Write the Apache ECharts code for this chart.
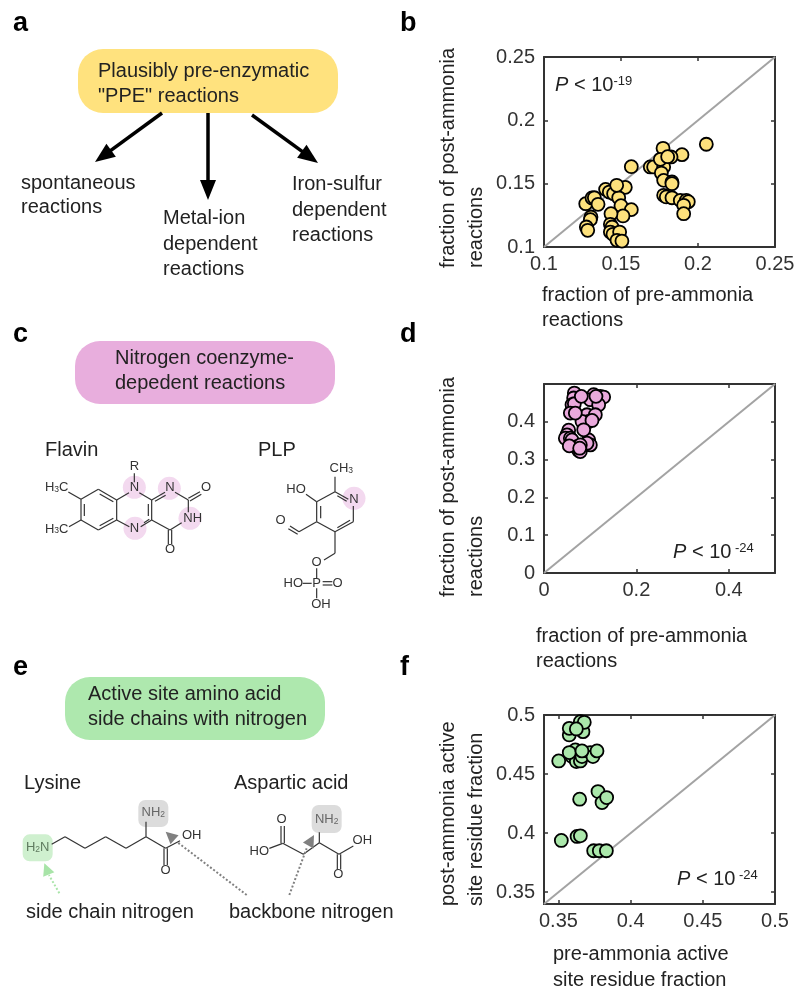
<!DOCTYPE html>
<html>
<head>
<meta charset="utf-8">
<title>PPE reactions</title>
<script src="https://cdn.jsdelivr.net/npm/echarts@6/dist/echarts.min.js"></script>
<style>
	html,body{margin:0;padding:0;background:#fff;}
	#main{width:800px;height:1001px;}
</style>
</head>
<body>
<div id="main"></div>
<script>
	// panel b
	var bPre=[0.1271,0.1312,0.1327,0.1351,0.1305,0.1301,0.1275,0.1284,0.1400,0.1424,0.1452,0.1528,0.1485,0.1500,0.1567,0.1513,0.1435,0.1431,0.1442,0.1431,0.1448,0.1491,0.1474,0.1506,0.1472,0.1567,0.1690,0.1712,0.1777,0.1762,0.1777,0.1831,0.1831,0.1777,0.1794,0.1831,0.1885,0.1924,0.1937,0.1907,0.1907,0.1773,0.1896,0.1825,0.1755,0.1803,0.2054];
	var bPost=[0.1342,0.1387,0.1389,0.1337,0.1237,0.1216,0.1158,0.1132,0.1455,0.1434,0.1421,0.1471,0.1389,0.1326,0.1295,0.1245,0.1263,0.1179,0.1158,0.1118,0.1100,0.1118,0.1053,0.1047,0.1487,0.1634,0.1632,0.1632,0.1632,0.1584,0.1526,0.1513,0.1500,0.1408,0.1395,0.1389,0.1368,0.1368,0.1358,0.1329,0.1263,0.1779,0.1729,0.1711,0.1692,0.1713,0.1811];
	var bTicks=[0.1,0.15,0.2,0.25];
	var bLimits=[0.1,0.25];

	// panel d
	var dPre=[0.0657,0.1075,0.1219,0.1291,0.0642,0.1003,0.1183,0.0606,0.0657,0.0570,0.0931,0.1111,0.0967,0.0823,0.0534,0.0498,0.0462,0.0570,0.0606,0.0967,0.1003,0.0931,0.0714,0.0786,0.0750,0.0786,0.0808,0.1125,0.0678,0.1039,0.0859,0.0548,0.0772];
	var dPost=[0.4761,0.4717,0.4673,0.4655,0.4629,0.4585,0.4452,0.4452,0.4478,0.4230,0.4186,0.4186,0.4009,0.4009,0.3779,0.3655,0.3567,0.3567,0.3522,0.3522,0.3389,0.3434,0.3345,0.3389,0.3239,0.3212,0.4673,0.4673,0.4230,0.4036,0.3788,0.3363,0.3301];
	var dXTicks=[0,0.2,0.4];
	var dYTicks=[0,0.1,0.2,0.3,0.4];
	var dLimits=[0,0.5];

	// panel f
	var fPre=[0.3502,0.3575,0.3670,0.3594,0.3624,0.3652,0.3617,0.3663,0.3721,0.3739,0.3767,0.3647,0.3774,0.3802,0.3834,0.3629,0.3652,0.3520,0.3744,0.3783,0.3832,0.3652,0.3575,0.3679,0.3624,0.3575,0.3663];
	var fPost=[0.4611,0.4831,0.4859,0.4648,0.4606,0.4611,0.4704,0.4648,0.4682,0.4648,0.4696,0.4287,0.4352,0.4259,0.4301,0.3972,0.3977,0.3938,0.3851,0.3851,0.3851,0.4944,0.4887,0.4938,0.4882,0.4682,0.4696];
	var fTicks=[0.35,0.4,0.45,0.5];
	var fLimits=[0.34,0.5];

	var FONT='"Liberation Sans",Arial,sans-serif';
	var INK='#333';

	function zip(a,b){
		return a.map(function(v,i){return [v,b[i]];});
	}

	var grids=[],xAxes=[],yAxes=[],series=[];
	function addPlot(top,bottom,limits,xTicks,yTicks,pre,post,color,name){
		var g=grids.length;
		grids.push({left:544,width:231,top:top,height:bottom-top});
		[xAxes,yAxes].forEach(function(list,k){
			var ticks=k==0?xTicks:yTicks;
			[true,false].forEach(function(main){
				var base={
					type:'value',gridIndex:g,min:limits[0],max:limits[1],
					position:k==0?(main?'bottom':'top'):(main?'left':'right'),
					splitLine:{show:false},
					axisLine:{show:true,onZero:false,lineStyle:{color:INK,width:2}},
					axisTick:{show:true,inside:true,length:4,customValues:ticks,lineStyle:{color:INK,width:1.5}},
					axisLabel:{show:main,customValues:ticks,color:INK,fontSize:20,fontFamily:FONT,margin:k==0?7:9,
						formatter:function(v){return String(v);}}
				};
				list.push(base);
			});
		});
		var axisX=xAxes.length-2,axisY=yAxes.length-2;
		series.push({type:'line',name:'y = x',xAxisIndex:axisX,yAxisIndex:axisY,symbol:'none',silent:true,z:1,
			data:[[limits[0],limits[0]],[limits[1],limits[1]]],lineStyle:{color:'#a3a3a3',width:2}});
		series.push({type:'scatter',name:name,xAxisIndex:axisX,yAxisIndex:axisY,z:3,clip:false,symbolSize:13,
			data:zip(pre,post),itemStyle:{color:color,borderColor:'#000',borderWidth:1.8,opacity:1}});
	}
	addPlot(57,247,bLimits,bTicks,bTicks,bPre,bPost,'#fde17c','b');
	addPlot(384,573,dLimits,dXTicks,dYTicks,dPre,dPost,'#eaa9dc','d');
	addPlot(715,904,fLimits,fTicks,fTicks,fPre,fPost,'#abe8ab','f');

	// everything that is not a plot: diagrams and free text
	var g=[];
	function txt(x,y,s,size,opt){
		opt=opt||{};
		var el={type:'text',x:x,y:y,rotation:opt.rot||0,z:10,style:{text:s,fill:opt.fill||'#222',
			font:(opt.bold?'bold ':'')+size+'px '+FONT,
			textAlign:opt.align||'left',textVerticalAlign:'middle',rich:opt.rich}};
		g.push(el);
	}
	function box(x,y,w,h,r,color){
		g.push({type:'rect',z:5,shape:{x:x,y:y,width:w,height:h,r:r},style:{fill:color}});
	}
	function seg(x1,y1,x2,y2,color,width,dash){
		g.push({type:'line',z:7,shape:{x1:x1,y1:y1,x2:x2,y2:y2},
			style:{stroke:color||'#333',lineWidth:width||1.2,lineDash:dash||null}});
	}
	function head(x1,y1,x2,y2,len,wid,color){
		var a=Math.atan2(y2-y1,x2-x1);
		var bx=x2-len*Math.cos(a),by=y2-len*Math.sin(a);
		var nx=-Math.sin(a)*wid/2,ny=Math.cos(a)*wid/2;
		g.push({type:'polygon',z:8,shape:{points:[[x2,y2],[bx+nx,by+ny],[bx-nx,by-ny]]},style:{fill:color}});
	}
	function arrow(x1,y1,x2,y2){
		var a=Math.atan2(y2-y1,x2-x1);
		seg(x1,y1,x2-12*Math.cos(a),y2-12*Math.sin(a),'#000',3.5);
		head(x1,y1,x2,y2,20,16,'#000');
	}
	function pLabel(x,y,exp){
		txt(x,y,'{p|P}{t| < 10}{s|'+exp+'}',20,{rich:{
			p:{font:'italic 20px '+FONT,fill:'#222'},
			t:{font:'20px '+FONT,fill:'#222'},
			s:{font:'13px '+FONT,fill:'#222',verticalAlign:'top'}
		}});
	}
	// molecule drawn in a 3x zoomed frame, ox/oy are the page offset of that frame
	function bonds(ox,oy,list){
		list.forEach(function(b){
			seg(ox+b[0]/3,oy+b[1]/3,ox+b[2]/3,oy+b[3]/3,'#333',1.2);
		});
	}
	function atom(ox,oy,x,y,s,fill){
		var rich={n:{font:'13px '+FONT,fill:fill||'#333'},s:{font:'8.5px '+FONT,fill:fill||'#333',verticalAlign:'bottom'}};
		txt(ox+x/3,oy+y/3,s,13,{align:'center',rich:rich});
	}
	function halo(ox,oy,x,y,color){
		g.push({type:'circle',z:5,shape:{cx:ox+x/3,cy:oy+y/3,r:11.5},style:{fill:color}});
	}

	// panel letters
	txt(13,24,'a',27,{bold:true,fill:'#000'});
	txt(400,24,'b',27,{bold:true,fill:'#000'});
	txt(13,335,'c',27,{bold:true,fill:'#000'});
	txt(400,335,'d',27,{bold:true,fill:'#000'});
	txt(13,668,'e',27,{bold:true,fill:'#000'});
	txt(400,668,'f',27,{bold:true,fill:'#000'});

	var S=20;
	// panel a
	box(78,49,260,64,25,'#ffe27e');
	txt(98,71,'Plausibly pre-enzymatic',S);
	txt(98,96,'"PPE" reactions',S);
	arrow(162,113,95,162);
	arrow(208,113,208,200);
	arrow(252,115,318,163);
	txt(21,183,'spontaneous',S);
	txt(21,207,'reactions',S);
	txt(163,218,'Metal-ion',S);
	txt(163,244,'dependent',S);
	txt(163,269,'reactions',S);
	txt(292,184,'Iron-sulfur',S);
	txt(292,210,'dependent',S);
	txt(292,235,'reactions',S);

	// panel c
	box(75,341,260,63,25,'#e8aedd');
	txt(115,358,'Nitrogen coenzyme-',S);
	txt(115,383,'depedent reactions',S);
	txt(45,450,'Flavin',S);
	txt(258,450,'PLP',S);
	var cy=430,haloC='#f3d9ef';
	halo(0,cy,403,172,haloC);halo(0,cy,508,175,haloC);halo(0,cy,570,265,haloC);halo(0,cy,405,295,haloC);halo(0,cy,1062,205,haloC);
	bonds(0,cy,[
		[295,178,350,210],[350,210,350,270],[350,270,295,300],[295,300,243,270],[243,270,243,208],[243,208,295,178],
		[299,192,340,215],[340,265,299,287],[253,258,253,222],
		[350,210,387,188],[418,188,455,210],[455,210,455,270],[455,270,422,290],[388,290,350,270],
		[445,222,445,258],[432,278,448,268],
		[455,210,495,187],[465,214,497,196],[525,187,565,210],[565,210,565,247],[545,278,510,300],[510,300,455,270],
		[565,205,600,185],[570,213,604,193],
		[505,300,505,342],[515,300,515,342],
		[243,208,205,186],[243,270,207,290],[403,130,403,157]
	]);
	atom(0,cy,403,110,'{n|R}');
	atom(0,cy,403,172,'{n|N}');
	atom(0,cy,510,173,'{n|N}');
	atom(0,cy,578,265,'{n|NH}');
	atom(0,cy,403,296,'{n|N}');
	atom(0,cy,618,173,'{n|O}');
	atom(0,cy,510,358,'{n|O}');
	atom(0,cy,170,172,'{n|H}{s|3}{n|C}');
	atom(0,cy,170,297,'{n|H}{s|3}{n|C}');

	bonds(0,cy,[
		[1005,185,1045,208],[1060,228,1060,275],[1060,275,1005,305],[1005,305,950,275],[950,275,950,215],[950,215,1005,185],
		[1012,197,1040,214],[1012,293,1050,271],[962,228,962,265],
		[1005,185,1005,140],[950,215,918,193],
		[950,275,897,305],[897,305,870,288],[893,313,865,296],
		[1005,305,1005,370],[1005,370,972,390],
		[950,415,950,445],[908,460,935,460],[968,455,997,455],[968,465,997,465],[950,475,950,505]
	]);
	atom(0,cy,1062,208,'{n|N}');
	atom(0,cy,1024,116,'{n|CH}{s|3}');
	atom(0,cy,888,178,'{n|HO}');
	atom(0,cy,842,272,'{n|O}');
	atom(0,cy,950,397,'{n|O}');
	atom(0,cy,950,460,'{n|P}');
	atom(0,cy,880,460,'{n|HO}');
	atom(0,cy,1013,460,'{n|O}');
	atom(0,cy,963,522,'{n|OH}');

	// panel e
	box(65,677,260,63,25,'#aee8ae');
	txt(88,694,'Active site amino acid',S);
	txt(88,719,'side chains with nitrogen',S);
	txt(24,783,'Lysine',S);
	txt(234,783,'Aspartic acid',S);
	txt(26,912,'side chain nitrogen',S);
	txt(229,912,'backbone nitrogen',S);
	var ey=750;
	box(68/3,ey+253/3,30,27,7,'#cff0cf');
	box(415/3,ey+150/3,30,27,7,'#dcdcdc');
	box(935/3,ey+165/3,30,28,7,'#dcdcdc');
	bonds(0,ey,[
		[155,283,195,260],[195,260,255,295],[255,295,317,260],[317,260,378,295],[378,295,438,260],[438,260,497,295],
		[438,260,438,215],[497,295,540,272],[492,295,492,345],[502,295,502,345],
		[808,295,848,280],[848,280,910,313],[910,313,958,278],[958,278,1017,313],[1017,313,1060,288],[958,278,958,247],
		[843,280,843,228],[853,280,853,228],[1012,313,1012,358],[1022,313,1022,358]
	]);
	atom(0,ey,113,292,'{n|H}{s|2}{n|N}','#5f7a5f');
	atom(0,ey,460,188,'{n|NH}{s|2}','#666');
	atom(0,ey,575,257,'{n|OH}');
	atom(0,ey,497,360,'{n|O}');
	atom(0,ey,778,305,'{n|HO}');
	atom(0,ey,1087,272,'{n|OH}');
	atom(0,ey,845,207,'{n|O}');
	atom(0,ey,1015,372,'{n|O}');
	atom(0,ey,980,208,'{n|NH}{s|2}','#666');
	// dotted pointers
	seg(178/3,ey+430/3,147/3,ey+375/3,'#a8e4a8',2,[2,2]);
	head(147/3,ey+375/3,133/3,ey+340/3,12,12,'#a8e4a8');
	seg(740/3,ey+435/3,530/3,ey+275/3,'#808080',2,[2,2]);
	head(530/3,ey+275/3,497/3,ey+245/3,12,12,'#808080');
	seg(868/3,ey+435/3,920/3,ey+295/3,'#808080',2,[2,2]);
	head(920/3,ey+295/3,942/3,ey+255/3,12,12,'#808080');

	// axis titles, left aligned like the original
	var up=Math.PI/2;
	txt(448,268,'fraction of post-ammonia',S,{rot:up});
	txt(476,268,'reactions',S,{rot:up});
	txt(542,295,'fraction of pre-ammonia',S);
	txt(542,320,'reactions',S);
	txt(448,597,'fraction of post-ammonia',S,{rot:up});
	txt(476,597,'reactions',S,{rot:up});
	txt(536,636,'fraction of pre-ammonia',S);
	txt(536,661,'reactions',S);
	txt(448,906,'post-ammonia active',S,{rot:up});
	txt(476,906,'site residue fraction',S,{rot:up});
	txt(553,954,'pre-ammonia active',S);
	txt(553,980,'site residue fraction',S);

	pLabel(555,85,'-19');
	pLabel(673,552,' -24');
	pLabel(677,879,' -24');

	var myChart=echarts.init(document.getElementById('main'),null,{renderer:'canvas'});
	myChart.setOption({
		animation:false,
		backgroundColor:'#fff',
		grid:grids,
		xAxis:xAxes,
		yAxis:yAxes,
		series:series,
		graphic:{elements:g}
	});
</script>
</body>
</html>
